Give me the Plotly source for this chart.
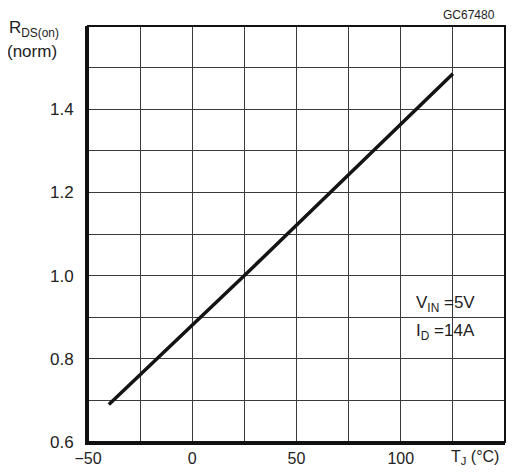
import plotly.graph_objects as go

# normalised on-resistance vs junction temperature
tj = [-40, 25, 125]
rds_norm = [0.69, 1.0, 1.485]

x_grid = [-50, -25, 0, 25, 50, 75, 100, 125, 150]
x_labels = ["\u221250", "", "0", "", "50", "", "100", "", ""]
y_grid = [0.6, 0.7, 0.8, 0.9, 1.0, 1.1, 1.2, 1.3, 1.4, 1.5, 1.6]
y_labels = ["0.6", "", "0.8", "", "1.0", "", "1.2", "", "1.4", "", ""]

font = "Liberation Sans, Arial, sans-serif"
# page body has an 8px margin, so the figure is a bit smaller than the window
OFF = 8
W, H = 504, 459
L, R, T, B = 80, 7, 18, 25

fig = go.Figure()
fig.add_trace(go.Scatter(x=tj, y=rds_norm, mode="lines",
                         line=dict(color="#141414", width=3.5),
                         hoverinfo="skip", showlegend=False))

fig.update_layout(
    width=W, height=H,
    margin=dict(l=L, r=R, t=T, b=B),
    paper_bgcolor="white", plot_bgcolor="white",
    font=dict(family=font, size=17, color="#222"),
    xaxis=dict(range=[-50, 150], tickvals=x_grid, ticktext=x_labels,
               showgrid=True, gridcolor="#3a3a3a", gridwidth=1,
               zeroline=False, showline=True, linecolor="#111", linewidth=3,
               ticks="", ticklabelstandoff=0, tickfont=dict(size=16),
               automargin=False, fixedrange=True),
    yaxis=dict(range=[0.6, 1.6], tickvals=y_grid, ticktext=y_labels,
               showgrid=True, gridcolor="#3a3a3a", gridwidth=1,
               zeroline=False, showline=True, linecolor="#111", linewidth=3,
               ticks="", ticklabelstandoff=8, automargin=False, fixedrange=True),
)

# thinner top/right frame
fig.add_shape(type="rect", xref="paper", yref="paper", x0=0, x1=1, y0=0, y1=1,
              line=dict(color="#111", width=2), layer="above")

# free text, positions in window pixels
notes = [
    dict(x=7, y=29, text="R<sub>DS(on)</sub>", size=17),
    dict(x=5, y=51, text="(norm)", size=17),
    dict(x=441, y=15, text="GC67480", size=12),
    dict(x=414, y=304, text="V<sub>IN</sub> =5V", size=17),
    dict(x=414, y=332, text="I<sub>D</sub> =14A", size=17),
    dict(x=449, y=457, text="T<sub>J</sub> (\u00b0C)", size=16),
]
for n in notes:
    px, py = n["x"] - OFF, n["y"] - OFF
    fig.add_annotation(x=(px - L) / (W - L - R), y=(H - B - py) / (H - T - B),
                       xref="paper", yref="paper", text=n["text"], showarrow=False,
                       xanchor="left", yanchor="middle",
                       font=dict(family=font, size=n["size"], color="#222"))

fig.write_html("out.html")
